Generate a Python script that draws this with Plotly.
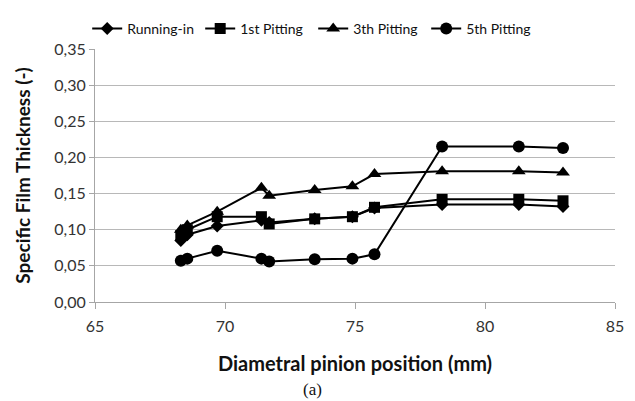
import plotly.graph_objects as go

x_pos = [68.3, 68.55, 69.7, 71.4, 71.7, 73.45, 74.9, 75.75, 78.35, 81.3, 83.0]
running_in = [0.085, 0.093, 0.105, 0.113, 0.110, 0.115, 0.118, 0.130, 0.135, 0.135, 0.132]
pitting_1 = [0.092, 0.100, 0.118, 0.118, 0.108, 0.115, 0.118, 0.131, 0.142, 0.142, 0.140]
pitting_3 = [0.100, 0.106, 0.125, 0.158, 0.147, 0.155, 0.160, 0.177, 0.181, 0.181, 0.179]
pitting_5 = [0.057, 0.060, 0.071, 0.060, 0.056, 0.059, 0.060, 0.066, 0.215, 0.215, 0.213]

series = [
    ("Running-in", running_in, "diamond", 10),
    ("1st Pitting", pitting_1, "square", 11),
    ("3th Pitting", pitting_3, "triangle-up", 12),
    ("5th Pitting", pitting_5, "circle", 12),
]

x_ticks = [65, 70, 75, 80, 85]
y_ticks = [0.0, 0.05, 0.10, 0.15, 0.20, 0.25, 0.30, 0.35]

fig = go.Figure()
for name, vals, sym, size in series:
    fig.add_trace(go.Scatter(
        x=x_pos, y=vals, name=name, mode="lines+markers",
        line=dict(color="black", width=2),
        marker=dict(symbol=sym, size=size, color="black"),
    ))

# paper area spans y = TOP..302 px; plot area top at 49 px
TOP = 45
paper_h = 302.0 - TOP
dom_top = (302.0 - 49) / paper_h

font_family = "Lato, 'Open Sans', sans-serif"
fig.update_layout(
    width=635, height=401,
    margin=dict(l=95, r=20, t=TOP, b=99),
    paper_bgcolor="white", plot_bgcolor="white",
    separators=",.",
    font=dict(family=font_family, color="#222222", size=14),
    showlegend=True,
    legend=dict(
        orientation="h", x=-0.015, xanchor="left",
        y=1.0, yanchor="bottom",
        font=dict(size=14, color="#111111"),
        entrywidth=68, entrywidthmode="pixels",
        itemwidth=30, tracegroupgap=0,
    ),
    xaxis=dict(
        range=[65, 85], tickvals=x_ticks, showgrid=False,
        showline=True, linecolor="#a6a6a6", linewidth=1,
        ticks="outside", tickcolor="#a6a6a6", ticklen=6,
        ticklabelstandoff=4,
        tickfont=dict(size=16, color="#333333"),
        title=dict(text="<b>Diametral pinion position (mm)</b>",
                   font=dict(size=20, color="#111111"), standoff=22),
        zeroline=False,
    ),
    yaxis=dict(
        domain=[0, dom_top],
        range=[0, 0.35], tickvals=y_ticks, tickformat=".2f",
        showgrid=True, gridcolor="#b8b8b8", gridwidth=1,
        showline=True, linecolor="#a6a6a6", linewidth=1,
        ticks="outside", tickcolor="#a6a6a6", ticklen=5,
        tickfont=dict(size=16, color="#333333"),
        title=dict(text="<b>Specific Film Thickness (-)</b>",
                   font=dict(size=19, color="#111111"), standoff=18),
        zeroline=False,
    ),
    annotations=[dict(
        text="(a)", xref="paper", yref="paper", x=0.419, y=-87 / paper_h,
        xanchor="center", yanchor="middle", showarrow=False,
        font=dict(family="'Liberation Serif', serif", size=17, color="#111111"),
    )],
)

fig.write_html("out.html")
